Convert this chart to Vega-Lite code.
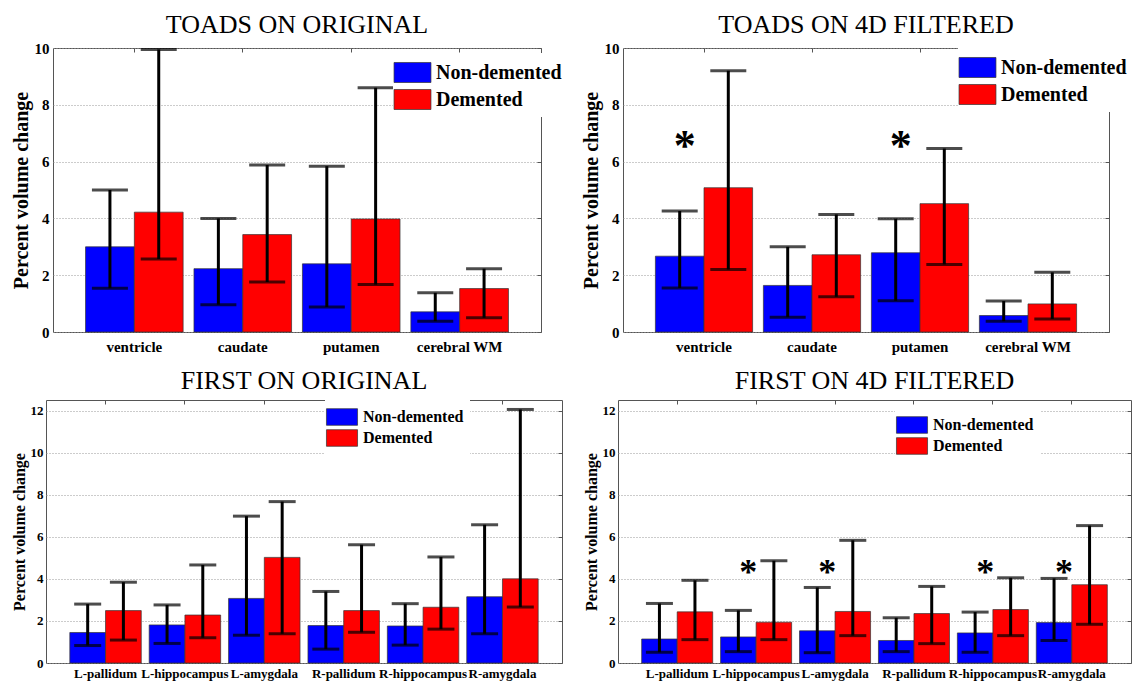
{
  "$schema": "https://vega.github.io/schema/vega-lite/v6.json",
  "padding": {"left": -21, "top": 11, "right": 0, "bottom": 0},
  "background": "white",
  "datasets": {
    "toads_orig": [
      {"region": "ventricle", "group": "Non-demented", "mean": 3.0, "low": 1.54, "high": 5.0},
      {"region": "ventricle", "group": "Demented", "mean": 4.22, "low": 2.57, "high": 9.95},
      {"region": "caudate", "group": "Non-demented", "mean": 2.23, "low": 0.96, "high": 4.0},
      {"region": "caudate", "group": "Demented", "mean": 3.43, "low": 1.76, "high": 5.88},
      {"region": "putamen", "group": "Non-demented", "mean": 2.4, "low": 0.88, "high": 5.84},
      {"region": "putamen", "group": "Demented", "mean": 3.98, "low": 1.67, "high": 8.6},
      {"region": "cerebral WM", "group": "Non-demented", "mean": 0.71, "low": 0.38, "high": 1.38},
      {"region": "cerebral WM", "group": "Demented", "mean": 1.53, "low": 0.5, "high": 2.23}
    ],
    "toads_4d": [
      {"region": "ventricle", "group": "Non-demented", "mean": 2.67, "low": 1.55, "high": 4.26, "star": true},
      {"region": "ventricle", "group": "Demented", "mean": 5.08, "low": 2.2, "high": 9.2, "star": false},
      {"region": "caudate", "group": "Non-demented", "mean": 1.64, "low": 0.52, "high": 3.0, "star": false},
      {"region": "caudate", "group": "Demented", "mean": 2.72, "low": 1.24, "high": 4.14, "star": false},
      {"region": "putamen", "group": "Non-demented", "mean": 2.79, "low": 1.1, "high": 3.99, "star": true},
      {"region": "putamen", "group": "Demented", "mean": 4.52, "low": 2.38, "high": 6.46, "star": false},
      {"region": "cerebral WM", "group": "Non-demented", "mean": 0.58, "low": 0.38, "high": 1.09, "star": false},
      {"region": "cerebral WM", "group": "Demented", "mean": 0.99, "low": 0.46, "high": 2.1, "star": false}
    ],
    "first_orig": [
      {"region": "L-pallidum", "group": "Non-demented", "mean": 1.45, "low": 0.83, "high": 2.8},
      {"region": "L-pallidum", "group": "Demented", "mean": 2.49, "low": 1.09, "high": 3.84},
      {"region": "L-hippocampus", "group": "Non-demented", "mean": 1.81, "low": 0.93, "high": 2.76},
      {"region": "L-hippocampus", "group": "Demented", "mean": 2.28, "low": 1.2, "high": 4.66},
      {"region": "L-amygdala", "group": "Non-demented", "mean": 3.07, "low": 1.32, "high": 6.98},
      {"region": "L-amygdala", "group": "Demented", "mean": 5.02, "low": 1.39, "high": 7.67},
      {"region": "R-pallidum", "group": "Non-demented", "mean": 1.78, "low": 0.66, "high": 3.4},
      {"region": "R-pallidum", "group": "Demented", "mean": 2.49, "low": 1.46, "high": 5.62},
      {"region": "R-hippocampus", "group": "Non-demented", "mean": 1.76, "low": 0.85, "high": 2.82},
      {"region": "R-hippocampus", "group": "Demented", "mean": 2.65, "low": 1.61, "high": 5.04},
      {"region": "R-amygdala", "group": "Non-demented", "mean": 3.15, "low": 1.39, "high": 6.57},
      {"region": "R-amygdala", "group": "Demented", "mean": 4.0, "low": 2.66, "high": 12.05}
    ],
    "first_4d": [
      {"region": "L-pallidum", "group": "Non-demented", "mean": 1.14, "low": 0.51, "high": 2.83, "star": false},
      {"region": "L-pallidum", "group": "Demented", "mean": 2.43, "low": 1.11, "high": 3.93, "star": false},
      {"region": "L-hippocampus", "group": "Non-demented", "mean": 1.24, "low": 0.54, "high": 2.5, "star": true},
      {"region": "L-hippocampus", "group": "Demented", "mean": 1.94, "low": 1.11, "high": 4.86, "star": false},
      {"region": "L-amygdala", "group": "Non-demented", "mean": 1.53, "low": 0.49, "high": 3.59, "star": true},
      {"region": "L-amygdala", "group": "Demented", "mean": 2.45, "low": 1.3, "high": 5.83, "star": false},
      {"region": "R-pallidum", "group": "Non-demented", "mean": 1.07, "low": 0.54, "high": 2.15, "star": false},
      {"region": "R-pallidum", "group": "Demented", "mean": 2.35, "low": 0.92, "high": 3.64, "star": false},
      {"region": "R-hippocampus", "group": "Non-demented", "mean": 1.43, "low": 0.51, "high": 2.42, "star": true},
      {"region": "R-hippocampus", "group": "Demented", "mean": 2.54, "low": 1.3, "high": 4.05, "star": false},
      {"region": "R-amygdala", "group": "Non-demented", "mean": 1.92, "low": 1.07, "high": 4.02, "star": true},
      {"region": "R-amygdala", "group": "Demented", "mean": 3.72, "low": 1.84, "high": 6.53, "star": false}
    ],
    "empty": []
  },
  "concat": [
    {
      "hconcat": [
        {"width": 20, "height": 20, "data": {"name": "empty"}, "mark": {"type": "point", "opacity": 0}, "view": {"stroke": null, "fill": null}},
        {
          "width": 488, "height": 284,
          "title": {"text": "TOADS ON ORIGINAL", "offset": 3},
          "data": {"name": "toads_orig"},
          "layer": [
            {
              "mark": {"type": "bar", "stroke": "#333", "strokeWidth": 0.7},
              "encoding": {
                "x": {"field": "region", "type": "nominal", "sort": null, "scale": {"paddingInner": 0.1, "paddingOuter": 0.3},
                      "axis": {"title": null, "labelAngle": 0, "ticks": false, "domain": false, "labelPadding": 7, "labelFontSize": 15}},
                "xOffset": {"field": "group", "type": "nominal", "sort": ["Non-demented", "Demented"], "scale": {"paddingInner": 0, "paddingOuter": 0}},
                "y": {"field": "mean", "type": "quantitative", "scale": {"domain": [0, 10], "nice": false},
                      "axis": {"title": "Percent volume change", "values": [0, 2, 4, 6, 8, 10], "grid": true, "gridDash": [1, 2], "gridColor": "#999", "domain": false, "ticks": false, "labelFontSize": 15, "labelPadding": 4, "titleFontSize": 20, "titlePadding": 3}},
                "color": {"field": "group", "type": "nominal", "scale": {"domain": ["Non-demented", "Demented"], "range": ["#0000FF", "#FF0000"]},
                          "legend": {"orient": "none", "legendX": 340, "legendY": 5, "symbolSize": 676, "symbolType": "M-1.42,-0.77L1.42,-0.77L1.42,0.77L-1.42,0.77Z", "labelOffset": 10, "labelFontSize": 20, "rowPadding": 2}}
              }
            },
            {
              "mark": {"type": "rule", "strokeWidth": 3, "color": "black"},
              "encoding": {
                "x": {"field": "region", "type": "nominal", "sort": null, "axis": {"orient": "top", "labels": false, "domain": false, "grid": false, "ticks": true, "tickSize": -4, "tickColor": "#555", "title": null, "minExtent": 0, "maxExtent": 0}},
                "xOffset": {"field": "group", "type": "nominal", "sort": ["Non-demented", "Demented"]},
                "y": {"field": "low", "type": "quantitative", "axis": {"orient": "right", "labels": false, "domain": false, "grid": false, "ticks": true, "tickSize": -4, "tickColor": "#555", "values": [0, 2, 4, 6, 8, 10], "title": null, "minExtent": 0, "maxExtent": 0}},
                "y2": {"field": "high"}
              }
            },
            {
              "transform": [{"fold": ["low", "high"], "as": ["bound", "val"]}],
              "mark": {"type": "tick", "thickness": 3, "size": 36, "color": "black"},
              "encoding": {
                "x": {"field": "region", "type": "nominal", "sort": null, "axis": null},
                "xOffset": {"field": "group", "type": "nominal", "sort": ["Non-demented", "Demented"]},
                "y": {"field": "val", "type": "quantitative", "axis": null}
              }
            }
          ],
          "resolve": {"axis": {"x": "independent", "y": "independent"}}
        },
        {
          "width": 486, "height": 284,
          "title": {"text": "TOADS ON 4D FILTERED", "offset": 3},
          "data": {"name": "toads_4d"},
          "layer": [
            {
              "mark": {"type": "bar", "stroke": "#333", "strokeWidth": 0.7},
              "encoding": {
                "x": {"field": "region", "type": "nominal", "sort": null, "scale": {"paddingInner": 0.1, "paddingOuter": 0.3},
                      "axis": {"title": null, "labelAngle": 0, "ticks": false, "domain": false, "labelPadding": 7, "labelFontSize": 15}},
                "xOffset": {"field": "group", "type": "nominal", "sort": ["Non-demented", "Demented"], "scale": {"paddingInner": 0, "paddingOuter": 0}},
                "y": {"field": "mean", "type": "quantitative", "scale": {"domain": [0, 10], "nice": false},
                      "axis": {"title": "Percent volume change", "values": [0, 2, 4, 6, 8, 10], "grid": true, "gridDash": [1, 2], "gridColor": "#999", "domain": false, "ticks": false, "labelFontSize": 15, "labelPadding": 4, "titleFontSize": 20, "titlePadding": 3}},
                "color": {"field": "group", "type": "nominal", "scale": {"domain": ["Non-demented", "Demented"], "range": ["#0000FF", "#FF0000"]},
                          "legend": {"orient": "none", "legendX": 335, "legendY": 0, "symbolSize": 676, "symbolType": "M-1.42,-0.77L1.42,-0.77L1.42,0.77L-1.42,0.77Z", "labelOffset": 10, "labelFontSize": 20, "rowPadding": 2}}
              }
            },
            {
              "mark": {"type": "rule", "strokeWidth": 3, "color": "black"},
              "encoding": {
                "x": {"field": "region", "type": "nominal", "sort": null, "axis": {"orient": "top", "labels": false, "domain": false, "grid": false, "ticks": true, "tickSize": -4, "tickColor": "#555", "title": null, "minExtent": 0, "maxExtent": 0}},
                "xOffset": {"field": "group", "type": "nominal", "sort": ["Non-demented", "Demented"]},
                "y": {"field": "low", "type": "quantitative", "axis": {"orient": "right", "labels": false, "domain": false, "grid": false, "ticks": true, "tickSize": -4, "tickColor": "#555", "values": [0, 2, 4, 6, 8, 10], "title": null, "minExtent": 0, "maxExtent": 0}},
                "y2": {"field": "high"}
              }
            },
            {
              "transform": [{"fold": ["low", "high"], "as": ["bound", "val"]}],
              "mark": {"type": "tick", "thickness": 3, "size": 36, "color": "black"},
              "encoding": {
                "x": {"field": "region", "type": "nominal", "sort": null, "axis": null},
                "xOffset": {"field": "group", "type": "nominal", "sort": ["Non-demented", "Demented"]},
                "y": {"field": "val", "type": "quantitative", "axis": null}
              }
            },
            {
              "transform": [{"filter": "datum.star"}],
              "mark": {"type": "text", "text": "*", "fontSize": 44, "fontWeight": "bold", "font": "Liberation Serif", "baseline": "alphabetic", "dy": 21, "dx": 5, "color": "black"},
              "encoding": {
                "x": {"field": "region", "type": "nominal", "sort": null, "axis": null},
                "xOffset": {"field": "group", "type": "nominal", "sort": ["Non-demented", "Demented"]},
                "y": {"datum": 6.8, "type": "quantitative", "axis": null}
              }
            }
          ],
          "resolve": {"axis": {"x": "independent", "y": "independent"}}
        }
      ],
      "spacing": 11,
      "resolve": {"scale": {"color": "independent", "xOffset": "independent"}, "legend": {"color": "independent"}}
    },
    {
      "hconcat": [
        {"width": 12, "height": 20, "data": {"name": "empty"}, "mark": {"type": "point", "opacity": 0}, "view": {"stroke": null, "fill": null}},
        {
          "width": 516, "height": 263,
          "title": {"text": "FIRST ON ORIGINAL", "offset": 6},
          "data": {"name": "first_orig"},
          "layer": [
            {
              "mark": {"type": "bar", "stroke": "#333", "strokeWidth": 0.7},
              "encoding": {
                "x": {"field": "region", "type": "nominal", "sort": null, "scale": {"paddingInner": 0.1, "paddingOuter": 0.3},
                      "axis": {"title": null, "labelAngle": 0, "ticks": false, "domain": false, "labelPadding": 4, "labelFontSize": 13}},
                "xOffset": {"field": "group", "type": "nominal", "sort": ["Non-demented", "Demented"], "scale": {"paddingInner": 0, "paddingOuter": 0}},
                "y": {"field": "mean", "type": "quantitative", "scale": {"domain": [0, 12.5], "nice": false},
                      "axis": {"title": "Percent volume change", "values": [0, 2, 4, 6, 8, 10, 12], "grid": true, "gridDash": [1, 2], "gridColor": "#999", "domain": false, "ticks": false, "labelFontSize": 13, "labelPadding": 3, "titleFontSize": 16, "titlePadding": 3}},
                "color": {"field": "group", "type": "nominal", "scale": {"domain": ["Non-demented", "Demented"], "range": ["#0000FF", "#FF0000"]},
                          "legend": {"orient": "none", "legendX": 279, "legendY": 0, "symbolSize": 441, "symbolType": "M-1.48,-0.79L1.48,-0.79L1.48,0.79L-1.48,0.79Z", "labelOffset": 10, "labelFontSize": 16, "rowPadding": 0}}
              }
            },
            {
              "mark": {"type": "rule", "strokeWidth": 3, "color": "black"},
              "encoding": {
                "x": {"field": "region", "type": "nominal", "sort": null, "axis": {"orient": "top", "labels": false, "domain": false, "grid": false, "ticks": true, "tickSize": -4, "tickColor": "#555", "title": null, "minExtent": 0, "maxExtent": 0}},
                "xOffset": {"field": "group", "type": "nominal", "sort": ["Non-demented", "Demented"]},
                "y": {"field": "low", "type": "quantitative", "axis": {"orient": "right", "labels": false, "domain": false, "grid": false, "ticks": true, "tickSize": -4, "tickColor": "#555", "values": [0, 2, 4, 6, 8, 10, 12], "title": null, "minExtent": 0, "maxExtent": 0}},
                "y2": {"field": "high"}
              }
            },
            {
              "transform": [{"fold": ["low", "high"], "as": ["bound", "val"]}],
              "mark": {"type": "tick", "thickness": 3, "size": 27, "color": "black"},
              "encoding": {
                "x": {"field": "region", "type": "nominal", "sort": null, "axis": null},
                "xOffset": {"field": "group", "type": "nominal", "sort": ["Non-demented", "Demented"]},
                "y": {"field": "val", "type": "quantitative", "axis": null}
              }
            }
          ],
          "resolve": {"axis": {"x": "independent", "y": "independent"}}
        },
        {
          "width": 513, "height": 263,
          "title": {"text": "FIRST ON 4D FILTERED", "offset": 6},
          "data": {"name": "first_4d"},
          "layer": [
            {
              "mark": {"type": "bar", "stroke": "#333", "strokeWidth": 0.7},
              "encoding": {
                "x": {"field": "region", "type": "nominal", "sort": null, "scale": {"paddingInner": 0.1, "paddingOuter": 0.3},
                      "axis": {"title": null, "labelAngle": 0, "ticks": false, "domain": false, "labelPadding": 4, "labelFontSize": 13}},
                "xOffset": {"field": "group", "type": "nominal", "sort": ["Non-demented", "Demented"], "scale": {"paddingInner": 0, "paddingOuter": 0}},
                "y": {"field": "mean", "type": "quantitative", "scale": {"domain": [0, 12.5], "nice": false},
                      "axis": {"title": "Percent volume change", "values": [0, 2, 4, 6, 8, 10, 12], "grid": true, "gridDash": [1, 2], "gridColor": "#999", "domain": false, "ticks": false, "labelFontSize": 13, "labelPadding": 3, "titleFontSize": 16, "titlePadding": 3}},
                "color": {"field": "group", "type": "nominal", "scale": {"domain": ["Non-demented", "Demented"], "range": ["#0000FF", "#FF0000"]},
                          "legend": {"orient": "none", "legendX": 277, "legendY": 8, "symbolSize": 441, "symbolType": "M-1.48,-0.79L1.48,-0.79L1.48,0.79L-1.48,0.79Z", "labelOffset": 10, "labelFontSize": 16, "rowPadding": 0}}
              }
            },
            {
              "mark": {"type": "rule", "strokeWidth": 3, "color": "black"},
              "encoding": {
                "x": {"field": "region", "type": "nominal", "sort": null, "axis": {"orient": "top", "labels": false, "domain": false, "grid": false, "ticks": true, "tickSize": -4, "tickColor": "#555", "title": null, "minExtent": 0, "maxExtent": 0}},
                "xOffset": {"field": "group", "type": "nominal", "sort": ["Non-demented", "Demented"]},
                "y": {"field": "low", "type": "quantitative", "axis": {"orient": "right", "labels": false, "domain": false, "grid": false, "ticks": true, "tickSize": -4, "tickColor": "#555", "values": [0, 2, 4, 6, 8, 10, 12], "title": null, "minExtent": 0, "maxExtent": 0}},
                "y2": {"field": "high"}
              }
            },
            {
              "transform": [{"fold": ["low", "high"], "as": ["bound", "val"]}],
              "mark": {"type": "tick", "thickness": 3, "size": 27, "color": "black"},
              "encoding": {
                "x": {"field": "region", "type": "nominal", "sort": null, "axis": null},
                "xOffset": {"field": "group", "type": "nominal", "sort": ["Non-demented", "Demented"]},
                "y": {"field": "val", "type": "quantitative", "axis": null}
              }
            },
            {
              "transform": [{"filter": "datum.star"}],
              "mark": {"type": "text", "text": "*", "fontSize": 36, "fontWeight": "bold", "font": "Liberation Serif", "baseline": "alphabetic", "dy": 17, "dx": 10, "color": "black"},
              "encoding": {
                "x": {"field": "region", "type": "nominal", "sort": null, "axis": null},
                "xOffset": {"field": "group", "type": "nominal", "sort": ["Non-demented", "Demented"]},
                "y": {"datum": 4.57, "type": "quantitative", "axis": null}
              }
            }
          ],
          "resolve": {"axis": {"x": "independent", "y": "independent"}}
        }
      ],
      "spacing": 19,
      "resolve": {"scale": {"color": "independent", "xOffset": "independent"}, "legend": {"color": "independent"}}
    }
  ],
  "columns": 1,
  "spacing": 12,
  "resolve": {"scale": {"color": "independent", "xOffset": "independent"}, "legend": {"color": "independent"}},
  "config": {
    "font": "Liberation Serif",
    "view": {"stroke": "#555", "strokeWidth": 1},
    "title": {"font": "Liberation Serif", "fontSize": 26, "fontWeight": "normal", "baseline": "alphabetic", "color": "black"},
    "axis": {"labelFont": "Liberation Serif", "titleFont": "Liberation Serif", "labelColor": "black", "titleColor": "black", "labelFontWeight": "bold", "titleFontWeight": "bold"},
    "legend": {
      "title": null,
      "symbolStrokeColor": "#333",
      "symbolStrokeWidth": 0.7,
      "symbolOpacity": 1,
      "labelFont": "Liberation Serif",
      "labelFontWeight": "bold",
      "labelColor": "black",
      "fillColor": "white",
      "padding": 6
    }
  }
}
